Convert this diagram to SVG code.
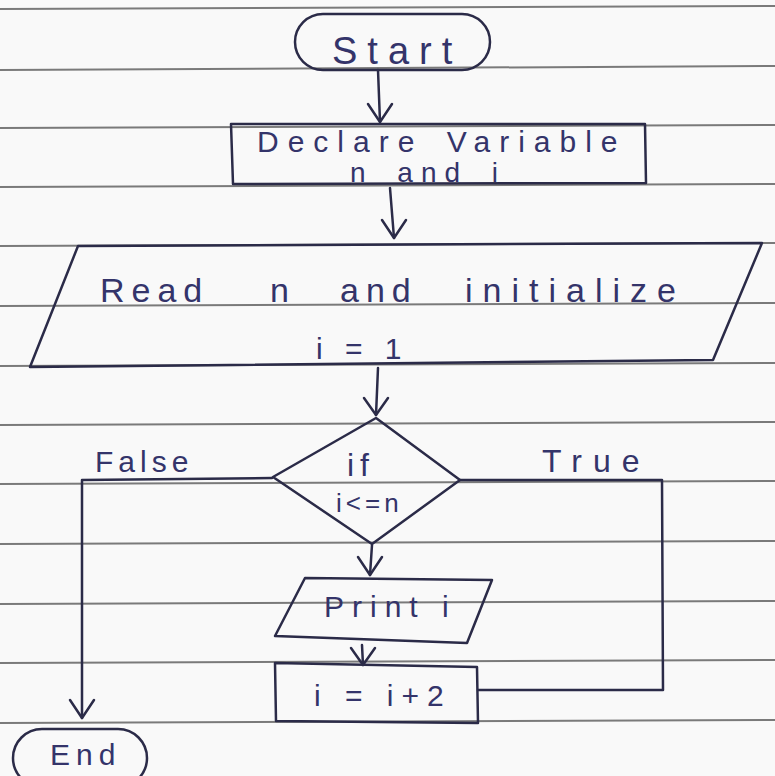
<svg xmlns="http://www.w3.org/2000/svg" width="775" height="776" viewBox="0 0 775 776">
<style>
.paper{stroke:#7a7a7a;stroke-width:2;fill:none}
.shape{stroke:#2b2b48;stroke-width:2.5;fill:none;stroke-linejoin:round;stroke-linecap:round}
.conn{stroke:#2b2b48;stroke-width:2.5;fill:none;stroke-linecap:round;stroke-linejoin:round}
.t{font-family:"Liberation Sans",Arial,sans-serif;fill:#34346a;font-size:30px}
</style>
<rect width="775" height="776" fill="#f9f9f9"/>
<g id="paper">
<line class="paper" x1="0" y1="9" x2="775" y2="6"/>
<line class="paper" x1="0" y1="70" x2="775" y2="66"/>
<line class="paper" x1="0" y1="128" x2="775" y2="125"/>
<line class="paper" x1="0" y1="187" x2="775" y2="184"/>
<line class="paper" x1="0" y1="246" x2="775" y2="243"/>
<line class="paper" x1="0" y1="306" x2="775" y2="303"/>
<line class="paper" x1="0" y1="366" x2="775" y2="363"/>
<line class="paper" x1="0" y1="425" x2="775" y2="422"/>
<line class="paper" x1="0" y1="484" x2="775" y2="481"/>
<line class="paper" x1="0" y1="544" x2="775" y2="541"/>
<line class="paper" x1="0" y1="604" x2="775" y2="601"/>
<line class="paper" x1="0" y1="663" x2="775" y2="660"/>
<line class="paper" x1="0" y1="723" x2="775" y2="720"/>
</g>
<g id="connectors">
<line class="conn" x1="378" y1="70" x2="380" y2="122"/>
<line class="conn" x1="390" y1="188" x2="394" y2="238"/>
<line class="conn" x1="378" y1="368" x2="376" y2="415"/>
<line class="conn" x1="372" y1="545" x2="370" y2="575"/>
<line class="conn" x1="362" y1="645" x2="363" y2="665"/>
<polyline class="conn" points="460,480 662,480 663,690 478,690"/>
<polyline class="conn" points="272,478 82,480 82,718"/>
<g class="conn">
<polyline points="368,104 380,122 392,104"/>
<polyline points="382,220 394,238 406,220"/>
<polyline points="364,398 376,415 388,398"/>
<polyline points="358,557 370,575 382,557"/>
<polyline points="351,648 363,665 375,648"/>
<polyline points="70,700 82,718 94,700"/>
</g>
<text class="t" x="95" y="472" letter-spacing="5">False</text>
<text class="t" x="542" y="472" style="font-size:32px" letter-spacing="11">True</text>
</g>
<g id="start">
<rect class="shape" x="295" y="14" width="195" height="56" rx="28"/>
<text class="t" x="332" y="64" style="font-size:38px" letter-spacing="10">Start</text>
</g>
<g id="declare">
<polygon class="shape" points="231,124 645,124 646,183 233,184"/>
<text class="t" x="257" y="152" letter-spacing="9" word-spacing="6">Declare Variable</text>
<text class="t" x="350" y="182" style="font-size:28px" letter-spacing="8" word-spacing="8">n and i</text>
</g>
<g id="read">
<polygon class="shape" points="78,246 762,243 713,360 30,367"/>
<text class="t" y="302" style="font-size:34px" letter-spacing="7"><tspan x="100">Read</tspan><tspan x="270">n</tspan><tspan x="340">and</tspan><tspan x="465" letter-spacing="10">initialize</tspan></text>
<text class="t" x="316" y="359" letter-spacing="7">i = 1</text>
</g>
<g id="decision">
<polygon class="shape" points="376,418 460,480 372,544 273,477"/>
<text class="t" x="347" y="476" style="font-size:32px" letter-spacing="6">if</text>
<text class="t" x="336" y="512" style="font-size:26px" letter-spacing="4">i&lt;=n</text>
</g>
<g id="print">
<polygon class="shape" points="305,578 492,580 467,643 275,636"/>
<text class="t" x="324" y="617" letter-spacing="8">Print i</text>
</g>
<g id="increment">
<polygon class="shape" points="275,663 477,667 478,723 276,721"/>
<text class="t" x="314" y="706" letter-spacing="8">i = i+2</text>
</g>
<g id="end">
<rect class="shape" x="13" y="729" width="134" height="58" rx="29"/>
<text class="t" x="50" y="765" letter-spacing="6">End</text>
</g>
</svg>
